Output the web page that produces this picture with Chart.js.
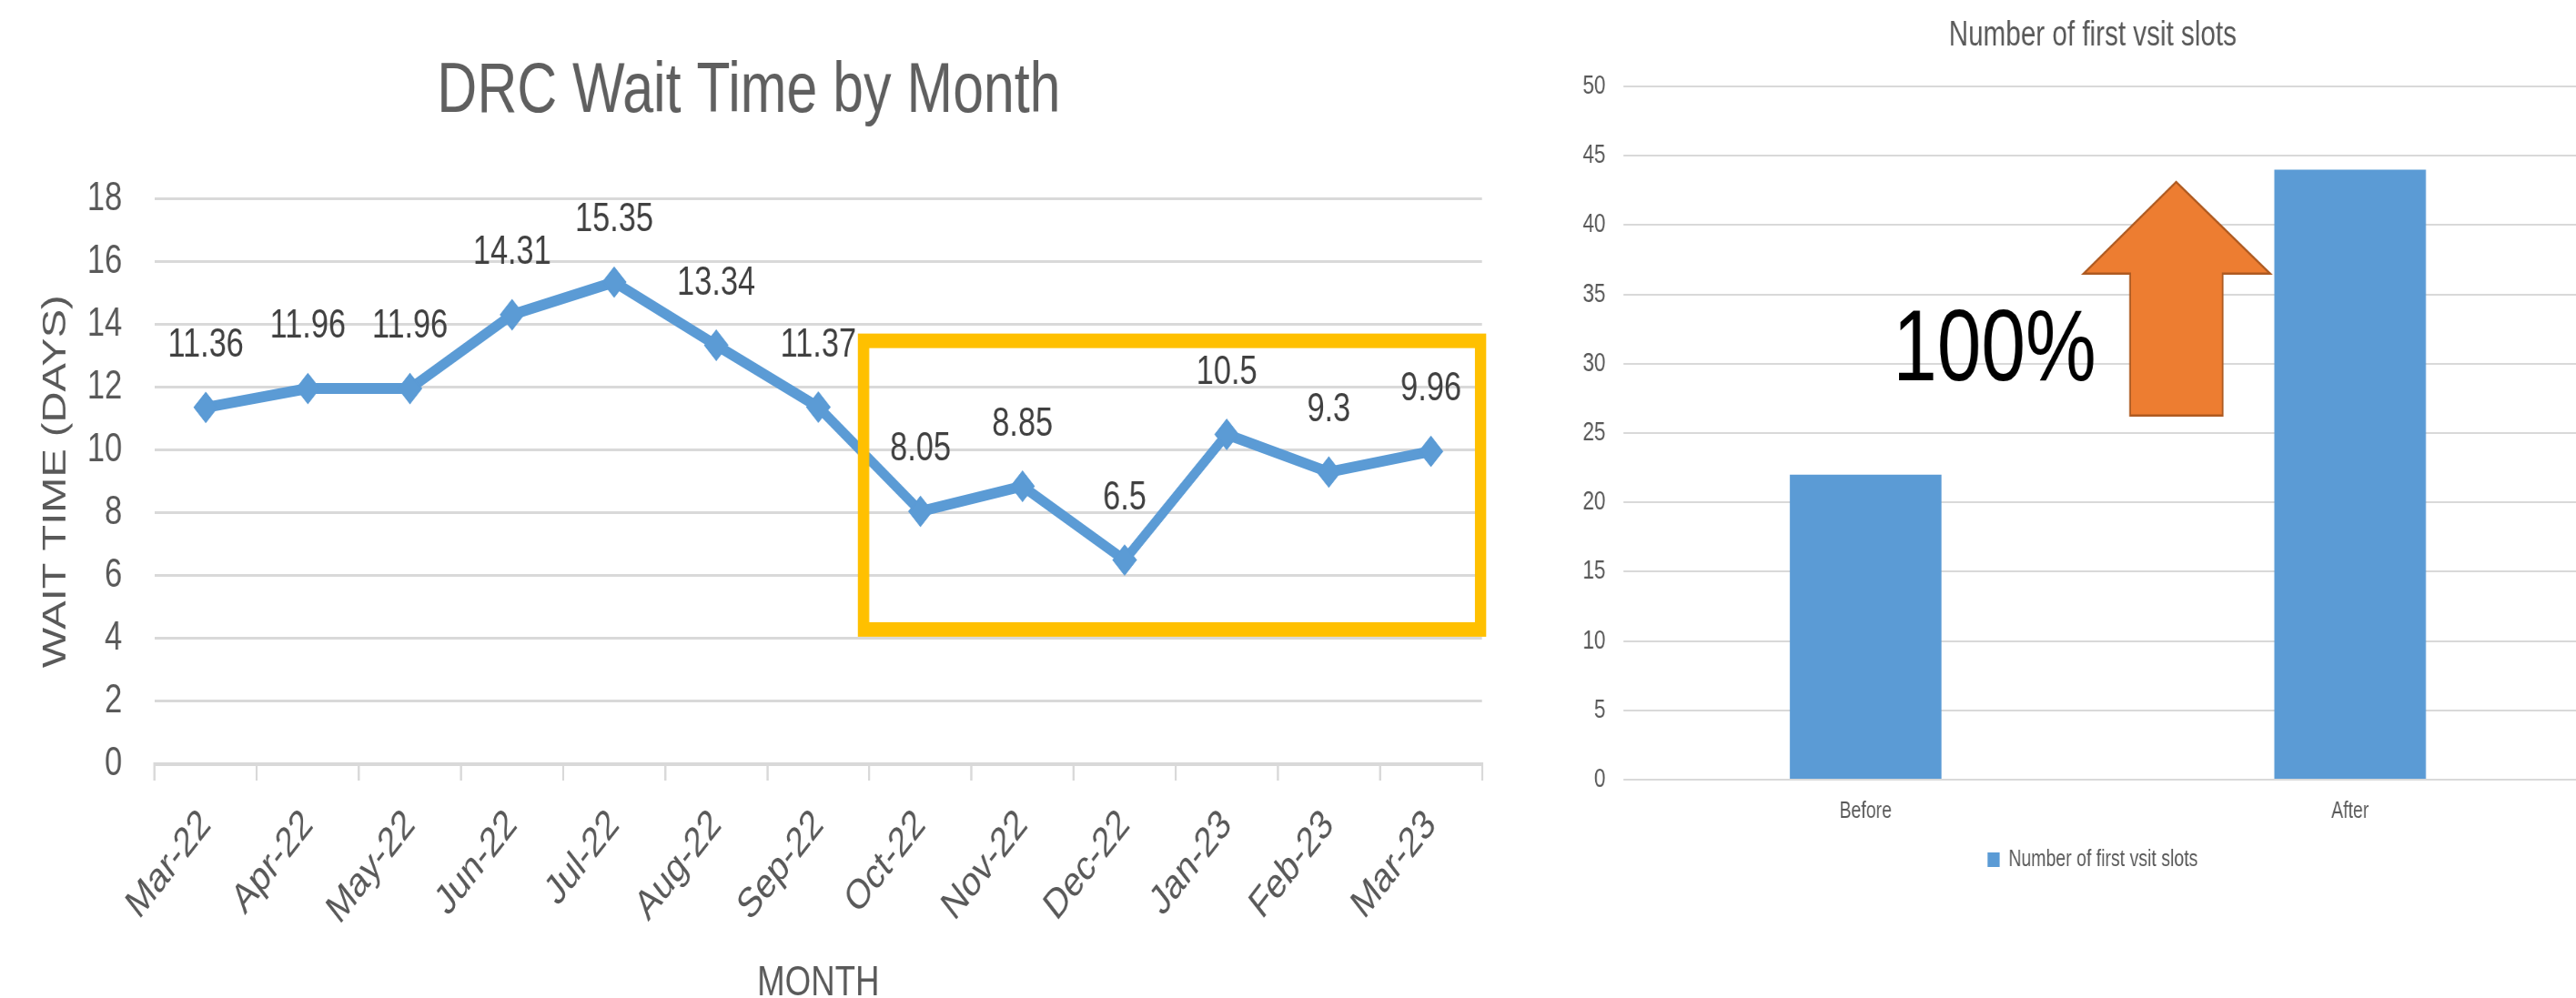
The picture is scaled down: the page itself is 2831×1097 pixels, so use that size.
<!DOCTYPE html>
<html><head><meta charset="utf-8">
<script src="https://cdn.jsdelivr.net/npm/chart.js@4.4.0/dist/chart.umd.min.js"></script>
<style>
html,body{margin:0;padding:0;background:#fff;overflow:hidden;width:2831px;height:1097px;}
canvas{position:absolute;top:0;transform:scaleX(0.78);transform-origin:0 0;}
#c1{left:0;}
#c2{left:1700px;}
</style></head><body>
<canvas id="c1" width="2132" height="1120"></canvas>
<canvas id="c2" width="1538" height="1097"></canvas>
<script>
// ---- data ----
const months = ['Mar-22','Apr-22','May-22','Jun-22','Jul-22','Aug-22','Sep-22','Oct-22','Nov-22','Dec-22','Jan-23','Feb-23','Mar-23'];
const waitDays = [11.36, 11.96, 11.96, 14.31, 15.35, 13.34, 11.37, 8.05, 8.85, 6.5, 10.5, 9.3, 9.96];
const waitTitle = 'DRC Wait Time by Month';
const waitAxisY = 'WAIT TIME (DAYS)';
const waitAxisX = 'MONTH';
const slotCategories = ['Before', 'After'];
const slotValues = [22, 44];
const slotLabel = 'Number of first vsit slots';
const changeText = '100%';

const FONT = "'Liberation Sans', Arial, sans-serif";
Chart.defaults.font.family = FONT;
Chart.defaults.color = '#595959';

const highlightBox = {
  id: 'highlightBox',
  afterDatasetsDraw(chart) {
    const {ctx, scales: {x, y}} = chart;
    const l = x.getPixelForValue(6.443), r = x.getPixelForValue(12.486);
    const t = y.getPixelForValue(13.48), b = y.getPixelForValue(4.29);
    ctx.save();
    ctx.strokeStyle = '#FFC000';
    ctx.lineWidth = 16;
    ctx.strokeRect(l, t, r - l, b - t);
    ctx.restore();
  }
};
const valueLabels = {
  id: 'valueLabels',
  afterDatasetsDraw(chart) {
    const {ctx} = chart;
    const meta = chart.getDatasetMeta(0);
    ctx.save();
    ctx.font = '44px ' + FONT;
    ctx.fillStyle = '#404040';
    ctx.textAlign = 'center';
    ctx.textBaseline = 'middle';
    meta.data.forEach((pt, i) => ctx.fillText(String(waitDays[i]), pt.x, pt.y - 68));
    ctx.restore();
  }
};

new Chart(document.getElementById('c1'), {
  type: 'line',
  data: {
    labels: months,
    datasets: [{
      data: waitDays,
      borderColor: '#5B9BD5', backgroundColor: '#5B9BD5',
      borderWidth: 12, tension: 0,
      pointStyle: 'rectRot', pointRadius: 16, pointBorderWidth: 2,
      pointBackgroundColor: '#5B9BD5', pointBorderColor: '#5B9BD5'
    }]
  },
  options: {
    responsive: false, animation: false,
    layout: {padding: {left: 22, right: 44, top: 0, bottom: 0}},
    plugins: {
      legend: {display: false}, tooltip: {enabled: false},
      title: {display: true, text: waitTitle, color: '#5f5f5f',
        font: {size: 78, weight: 'normal'}, padding: {top: 55, bottom: 70}}
    },
    scales: {
      x: {
        offset: true,
        grid: {display: true, drawOnChartArea: false, drawTicks: true, tickLength: 18, color: '#d9d9d9', lineWidth: 3, offset: true},
        border: {display: true, color: '#d9d9d9', width: 4},
        ticks: {autoSkip: false, minRotation: 45, maxRotation: 45, padding: 22, color: '#595959', font: {size: 46}},
        title: {display: true, text: waitAxisX, color: '#595959', font: {size: 47}, padding: {top: 0, bottom: 11}},
        afterFit(s) { s.height = 280; }
      },
      y: {
        min: 0, max: 18,
        ticks: {stepSize: 2, padding: 46, color: '#595959', font: {size: 44}},
        grid: {color: '#d9d9d9', lineWidth: 3, drawTicks: false},
        border: {display: false},
        title: {display: true, text: waitAxisY, color: '#595959', font: {size: 47}, padding: {top: 29, bottom: 0}},
        afterFit(s) { s.width = 196; }
      }
    }
  },
  plugins: [highlightBox, valueLabels]
});

const arrowNote = {
  id: 'arrowNote',
  afterDatasetsDraw(chart) {
    const {ctx, scales: {x, y}} = chart;
    const X = v => x.getPixelForValue(v), Y = v => y.getPixelForValue(v);
    ctx.save();
    ctx.beginPath();
    ctx.moveTo(X(0.641), Y(43.11));
    ctx.lineTo(X(0.835), Y(36.5));
    ctx.lineTo(X(0.737), Y(36.5));
    ctx.lineTo(X(0.737), Y(26.27));
    ctx.lineTo(X(0.546), Y(26.27));
    ctx.lineTo(X(0.546), Y(36.5));
    ctx.lineTo(X(0.450), Y(36.5));
    ctx.closePath();
    ctx.fillStyle = '#ED7D31';
    ctx.fill();
    ctx.strokeStyle = '#AE5A21';
    ctx.lineWidth = 2.5;
    ctx.stroke();
    ctx.font = '112px ' + FONT;
    ctx.fillStyle = '#000';
    ctx.textAlign = 'center';
    ctx.textBaseline = 'middle';
    ctx.fillText(changeText, X(0.266), Y(30.8));
    ctx.restore();
  }
};

// nudge the centred title and legend of the bar chart to sit over the same centre as the original
const centreShift = {
  id: 'centreShift',
  afterLayout(chart) {
    const d = 10;
    [chart.titleBlock, chart.legend].forEach(b => { if (b) { b.left += d; b.right += d; } });
  }
};

new Chart(document.getElementById('c2'), {
  type: 'bar',
  data: {
    labels: slotCategories,
    datasets: [{label: slotLabel, data: slotValues, backgroundColor: '#5B9BD5', barPercentage: 0.313, categoryPercentage: 1}]
  },
  options: {
    responsive: false, animation: false,
    layout: {padding: {left: 45, right: 65, top: 0, bottom: 129.5}},
    plugins: {
      tooltip: {enabled: false},
      title: {display: true, text: slotLabel, color: '#595959', font: {size: 38, weight: 'normal'}, padding: {top: 17, bottom: 32.4}},
      legend: {display: true, position: 'bottom', labels: {boxWidth: 17, boxHeight: 16, font: {size: 25}, color: '#595959', padding: 10}}
    },
    scales: {
      x: {grid: {display: false}, border: {display: false}, ticks: {padding: 12, font: {size: 25}, color: '#595959'}, afterFit(s) { s.height = 65.5; }},
      y: {min: 0, max: 50, ticks: {stepSize: 5, padding: 25, font: {size: 29}, color: '#595959'},
        grid: {color: '#d9d9d9', lineWidth: 2, drawTicks: false}, border: {display: false}, afterFit(s) { s.width = 62.7; }}
    }
  },
  plugins: [arrowNote, centreShift]
});
</script>
</body></html>
